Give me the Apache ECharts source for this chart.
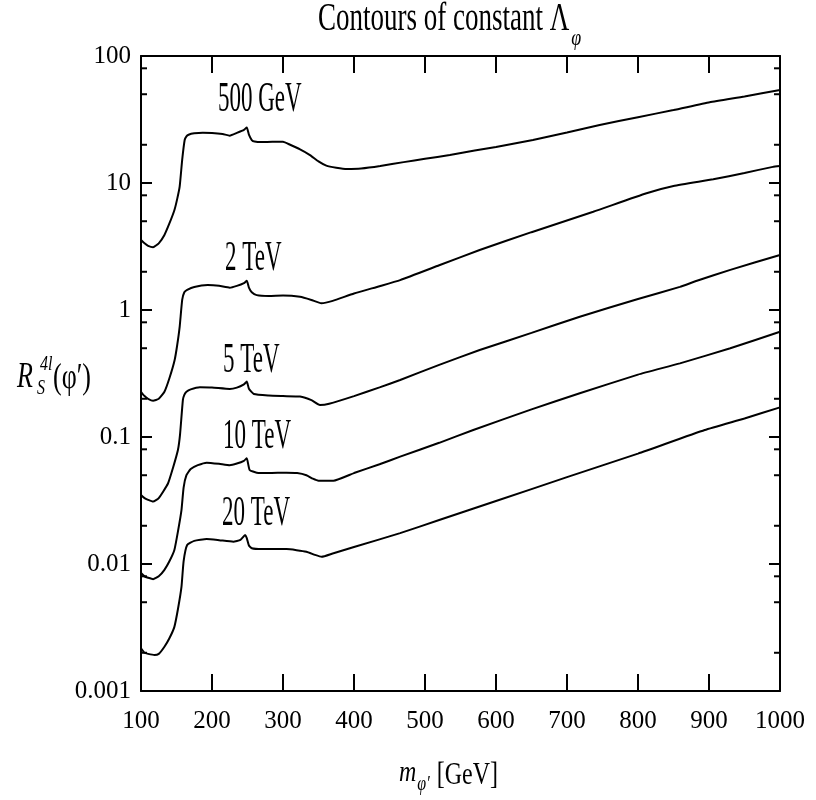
<!DOCTYPE html>
<html>
<head>
<meta charset="utf-8">
<script src="https://cdn.jsdelivr.net/npm/echarts@6/dist/echarts.min.js"></script>
<style>html,body{margin:0;padding:0;background:#fff;}#c{width:816px;height:800px;}</style>
</head>
<body>
<div id="c"></div>
<script>
// ---- data ----
const xTickLabels = ['100','200','300','400','500','600','700','800','900','1000'];
const yTickValues = [0.001, 0.01, 0.1, 1, 10, 100];
const yTickLabels = ['0.001','0.01','0.1','1','10','100'];
const yMinorTicks = [0.002,0.005,0.008,0.02,0.05,0.08,0.2,0.5,0.8,2,5,8,20,50,80];

const x500 = [100,105,110,117,125,133,140,147,151,154.5,158,161.5,164,167,175,187,200,215,225,235,245,249,252,256,260,270,285,300,310,324,338,350,361,375,390,410,437,470,500,535,570,600,652,700,746,800,850,901,950,1000];
const y500 = [3.56,3.35,3.2,3.12,3.35,3.9,4.8,6.1,7.5,9.4,15.2,21.8,23.3,24.0,24.6,24.9,24.8,24.3,23.6,24.8,26.2,27.4,24,21.8,21.2,21.0,21.1,21.1,20.0,18.4,16.6,14.8,13.7,13.2,12.9,13.0,13.6,14.6,15.5,16.6,18.0,19.2,21.8,25,28.6,33,37.5,43.2,48,54];

const x2 = [100,105,110,117,125,133,140,147.4,151,154.5,158,161,165,175,194,210,225,235,245,249,252,256,263,280,300,324,340,354,370,400,436,465,520,577,650,737,812,850,906,950,990,1000];
const y2 = [0.227,0.21,0.2,0.193,0.2,0.227,0.29,0.404,0.53,0.74,1.2,1.38,1.44,1.52,1.57,1.55,1.50,1.55,1.63,1.70,1.5,1.38,1.31,1.29,1.30,1.27,1.20,1.13,1.18,1.35,1.54,1.72,2.25,2.97,4.1,5.94,8.3,9.47,10.7,12.0,13.4,13.6];

const x5 = [100,105,110,117,125,138,145,152,155,159,161,164,170,183,200,225,235,245,249,252,259,280,300,324,340,352,365,400,436,465,520,577,650,718,800,859,883,930,1000];
const y5 = [0.035,0.033,0.032,0.031,0.033,0.043,0.057,0.079,0.105,0.196,0.215,0.227,0.237,0.246,0.245,0.239,0.245,0.26,0.273,0.24,0.218,0.212,0.21,0.208,0.195,0.179,0.183,0.21,0.246,0.281,0.37,0.484,0.66,0.885,1.22,1.52,1.70,2.07,2.71];

const x10 = [100,105,110,117,125,133,140,147,152,157,160,164,170,180,192.5,210,225,235,245,249,253,263,280,305,320,333,342,350,371,400,436,465,520,568,650,718,800,859,930,1000];
const y10 = [0.0085,0.0080,0.0078,0.0076,0.0080,0.009,0.0105,0.0129,0.018,0.0266,0.040,0.050,0.056,0.060,0.0628,0.0615,0.060,0.0618,0.065,0.068,0.055,0.0524,0.052,0.0524,0.052,0.050,0.047,0.0453,0.0453,0.052,0.061,0.070,0.090,0.1135,0.165,0.221,0.31,0.38,0.5,0.675];

const x20 = [100,105,110,119,125,133,140,147,152,157,160,165,175,192.5,210,230,240,246.7,249,252,256,270,305,333,345,354.5,370,400,465,520,600,700,800,894,950,1000];
const y20 = [0.00217,0.0020,0.00196,0.00192,0.00196,0.00223,0.0026,0.0032,0.0044,0.0066,0.0105,0.0141,0.0152,0.0157,0.0154,0.0150,0.0155,0.0169,0.016,0.0140,0.0133,0.0131,0.0131,0.0125,0.0118,0.0114,0.0121,0.0136,0.0175,0.0222,0.0313,0.0483,0.074,0.1135,0.14,0.171];

const curveNames = ['500 GeV','2 TeV','5 TeV','10 TeV','20 TeV'];

// ---- chart ----
const serif = "'Liberation Serif','DejaVu Serif',serif";
const pairs = (xs, ys) => xs.map((x, i) => [x, ys[i]]);
const lineSeries = (name, xs, ys) => ({
  name, type: 'line', data: pairs(xs, ys), showSymbol: false, symbol: 'none',
  smooth: 0.15,
  lineStyle: { color: '#000', width: 2 }, silent: true, z: 5
});

const axisLineStyle = { show: true, lineStyle: { color: '#000', width: 2 } };
const xBase = {
  type: 'value', min: 100, max: 1000, interval: 100,
  axisLine: axisLineStyle,
  axisTick: { show: true, inside: true, length: 17, lineStyle: { color: '#000', width: 2 } },
  splitLine: { show: false }
};
const yBase = {
  type: 'log', logBase: 10, min: 0.001, max: 100,
  axisLine: axisLineStyle,
  axisTick: { show: true, inside: true, length: 11, lineStyle: { color: '#000', width: 2 } },
  splitLine: { show: false }, minorTick: { show: false }
};

const chart = echarts.init(document.getElementById('c'), null, { renderer: 'canvas' });

const mctx = document.createElement('canvas').getContext('2d');
function textWidth(text, size, italic) {
  mctx.font = (italic ? 'italic ' : '') + size + 'px ' + serif;
  return mctx.measureText(text).width;
}

function txt(x, y, text, size, opts) {
  opts = opts || {};
  return {
    type: 'text', x, y, scaleY: opts.sy || 1, z: 10,
    style: {
      text, fill: '#000', fontSize: size, fontFamily: serif,
      fontStyle: opts.italic ? 'italic' : 'normal',
      textAlign: opts.align || 'left', align: opts.align || 'left',
      textVerticalAlign: 'middle', verticalAlign: 'middle'
    }
  };
}

const titleMain = 'Contours of constant \u039B';
const titleLeft = 318, titleSize = 27;
const titleW = textWidth(titleMain, titleSize, false);

const mW = textWidth('m', 24, true);
const subW = textWidth('\u03C6\u2032', 16, true);

chart.setOption({
  animation: false,
  backgroundColor: '#fff',
  grid: { left: 141, right: 36, top: 56, bottom: 109, containLabel: false },
  xAxis: [
    Object.assign({}, xBase, {
      position: 'bottom',
      axisLabel: {
        margin: 18, fontSize: 25, fontFamily: serif, color: '#000',
        formatter: (v) => xTickLabels[Math.round((v - 100) / 100)] || ''
      }
    }),
    Object.assign({}, xBase, { position: 'top', axisLabel: { show: false } })
  ],
  yAxis: [
    Object.assign({}, yBase, {
      position: 'left',
      axisLabel: {
        margin: 10, fontSize: 25, fontFamily: serif, color: '#000',
        formatter: (v) => {
          let best = 0, bd = Infinity;
          yTickValues.forEach((t, i) => { const d = Math.abs(Math.log10(t) - Math.log10(v)); if (d < bd) { bd = d; best = i; } });
          return bd < 0.01 ? yTickLabels[best] : '';
        }
      }
    }),
    Object.assign({}, yBase, { position: 'right', axisLabel: { show: false } })
  ],
  series: [
    lineSeries(curveNames[0], x500, y500),
    lineSeries(curveNames[1], x2, y2),
    lineSeries(curveNames[2], x5, y5),
    lineSeries(curveNames[3], x10, y10),
    lineSeries(curveNames[4], x20, y20),
    {
      type: 'custom', silent: true, z: 6,
      data: yMinorTicks.map(v => [100, v]),
      encode: { x: 0, y: 1 },
      renderItem: (params, api) => {
        const v = api.value(1);
        const pL = api.coord([100, v]);
        const pR = api.coord([1000, v]);
        const st = { stroke: '#000', lineWidth: 2 };
        return {
          type: 'group', children: [
            { type: 'line', shape: { x1: pL[0], y1: pL[1], x2: pL[0] + 6, y2: pL[1] }, style: st },
            { type: 'line', shape: { x1: pR[0], y1: pR[1], x2: pR[0] - 6, y2: pR[1] }, style: st }
          ]
        };
      }
    }
  ],
  graphic: [
    // title
    txt(titleLeft, 20, titleMain, titleSize, { sy: 1.45 }),
    txt(titleLeft + titleW + 2, 39, '\u03C6', 18, { italic: true, sy: 1.3 }),
    // curve labels
    txt(218, 100.5, curveNames[0], 23, { sy: 1.8 }),
    txt(225, 259, curveNames[1], 23, { sy: 1.8 }),
    txt(223, 361, curveNames[2], 23, { sy: 1.8 }),
    txt(223, 437.5, curveNames[3], 23, { sy: 1.8 }),
    txt(222, 514.5, curveNames[4], 23, { sy: 1.8 }),
    // y axis name  R_S^{4l}(φ')
    txt(17, 377, 'R', 26, { italic: true, sy: 1.4 }),
    txt(40, 365, '4l', 16, { italic: true, sy: 1.3 }),
    txt(37, 389, 'S', 16, { italic: true, sy: 1.3 }),
    txt(53, 379, '(\u03C6\u2032)', 26, { sy: 1.35 }),
    // x axis name m_{φ'} [GeV]
    txt(399, 773, 'm', 24, { italic: true, sy: 1.25 }),
    txt(399 + mW + 1, 785, '\u03C6\u2032', 16, { italic: true, sy: 1.25 }),
    txt(399 + mW + subW + 8, 776, '[GeV]', 24, { sy: 1.3 })
  ]
});
</script>
</body>
</html>
